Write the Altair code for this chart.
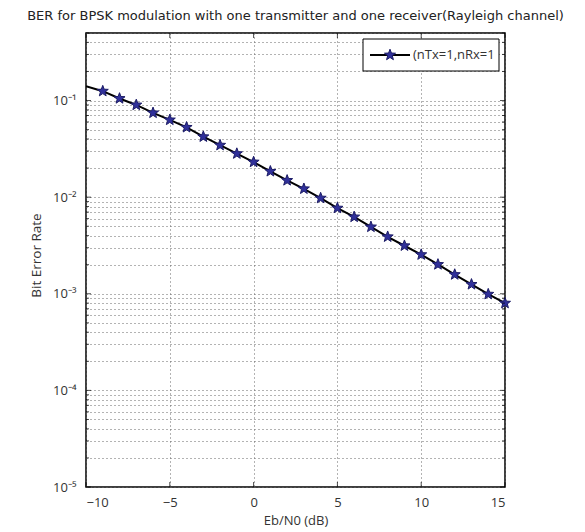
import math
import altair as alt
import pandas as pd

# ---- data ----
ebno_db = [-10, -9, -8, -7, -6, -5, -4, -3, -2, -1, 0, 1, 2, 3, 4, 5,
           6, 7, 8, 9, 10, 11, 12, 13, 14, 15]
ber = [0.141, 0.125, 0.105, 0.090, 0.0745, 0.063, 0.0528, 0.0422, 0.0345,
       0.0282, 0.0231, 0.0185, 0.0149, 0.0122, 0.00977, 0.0077, 0.00624,
       0.00492, 0.00389, 0.00314, 0.00254, 0.00201, 0.00158, 0.00125,
       0.00099, 0.0008]
series_name = "(nTx=1,nRx=1"
x_ticks = [-10, -5, 0, 5, 10, 15]
y_decades = [1e-5, 1e-4, 1e-3, 1e-2, 1e-1]
y_minor = [m * d for d in y_decades for m in range(2, 10) if m * d <= 0.5]
y_all = sorted(y_decades + y_minor)

X_DOM = [-10, 15]
Y_DOM = [1e-5, 0.5]
FONT = "Open Sans"
TXT = "#333333"
STAR = "#30309a"

df = pd.DataFrame({"x": ebno_db, "y": ber})
df_pts = df[df["x"] > -10].reset_index(drop=True)

# five-pointed star as an SVG path in unit coordinates
_pts = []
for i in range(10):
    ang = math.radians(-90 + 36 * i)
    r = 1.0 if i % 2 == 0 else 0.42
    _pts.append((r * math.cos(ang), r * math.sin(ang)))
STAR_PATH = "M" + "L".join(f"{px:.4f},{py:.4f}" for px, py in _pts) + "Z"

xs = alt.Scale(domain=X_DOM, nice=False, zero=False)
ys = alt.Scale(type="log", domain=Y_DOM, nice=False)

sup = {"-1": "⁻¹", "-2": "⁻²", "-3": "⁻³", "-4": "⁻⁴", "-5": "⁻⁵"}
e = "round(log(datum.value)/LN10)"
inner = " : ".join(f"{e} == {k} ? '10{v}'" for k, v in sup.items()) + " : ''"
y_label_expr = f"abs(log(datum.value)/LN10 - {e}) > 1e-6 ? '' : ({inner})"

x_axis = alt.Axis(
    orient="bottom", values=x_ticks, title="Eb/N0 (dB)", grid=True,
    gridDash=[1, 3], gridColor="#666666", gridWidth=1, ticks=False,
    domain=False, labelFont=FONT, labelFontSize=13, labelColor=TXT,
    labelPadding=9, titleFont=FONT, titleFontSize=13,
    titleFontWeight="normal", titleColor=TXT, titlePadding=5)
y_axis = alt.Axis(
    orient="left", values=y_all, labelExpr=y_label_expr,
    title="Bit Error Rate", grid=True, gridDash=[1, 3], gridColor="#666666",
    gridWidth=1, ticks=False, domain=False, labelFont=FONT, labelFontSize=13,
    labelColor=TXT, labelPadding=10, labelBaseline="middle",
    titleFont=FONT, titleFontSize=13.5, titleFontWeight="normal",
    titleColor=TXT, titleX=-43, titleY=222)

line = alt.Chart(df).mark_line(strokeWidth=2, color="black", clip=True).encode(
    x=alt.X("x:Q", scale=xs, axis=x_axis),
    y=alt.Y("y:Q", scale=ys, axis=y_axis),
)

points = alt.Chart(df_pts).mark_point(
    shape=STAR_PATH, filled=True, size=135, fill=STAR, stroke="#1c1c66",
    strokeWidth=1, opacity=1).encode(
    x=alt.X("x:Q", scale=xs), y=alt.Y("y:Q", scale=ys))

# inward tick marks like the reference frame
ymaj = pd.DataFrame({"y": y_decades})
ymin = pd.DataFrame({"y": y_minor})
xt = pd.DataFrame({"x": x_ticks})


def ytick(data, xval, ln, sign):
    return alt.Chart(data).mark_tick(
        orient="horizontal", color="black", thickness=1, size=ln,
        xOffset=sign * ln / 2).encode(
        x=alt.datum(xval), y=alt.Y("y:Q"))


def xtick(yval, sign):
    return alt.Chart(xt).mark_tick(
        orient="vertical", color="black", thickness=1, size=5,
        yOffset=sign * 2.5).encode(
        x=alt.X("x:Q"), y=alt.datum(yval))


# legend box drawn inside the plot, top right
leg = pd.DataFrame({"s": [series_name]})
leg_box = alt.Chart(leg).mark_rect(fill="white", stroke="black",
                                   strokeWidth=1).encode(
    x=alt.value(277), x2=alt.value(413), y=alt.value(6), y2=alt.value(38))
leg_line = alt.Chart(leg).mark_rule(color="black", strokeWidth=2).encode(
    x=alt.value(284), x2=alt.value(324), y=alt.value(22))
leg_star = alt.Chart(leg).mark_point(
    shape=STAR_PATH, filled=True, size=135, fill=STAR, stroke="#1c1c66",
    strokeWidth=1, opacity=1).encode(x=alt.value(304), y=alt.value(22))
leg_text = alt.Chart(leg).mark_text(
    align="left", baseline="middle", font=FONT, fontSize=13,
    color=TXT).encode(x=alt.value(327), y=alt.value(22), text="s:N")

chart = alt.layer(
    line, points,
    ytick(ymaj, X_DOM[0], 5, 1), ytick(ymaj, X_DOM[1], 5, -1),
    ytick(ymin, X_DOM[0], 3, 1), ytick(ymin, X_DOM[1], 3, -1),
    xtick(Y_DOM[0], -1), xtick(Y_DOM[1], 1),
    leg_box, leg_line, leg_star, leg_text,
).properties(
    width=419, height=454,
    title=alt.TitleParams(
        "BER for BPSK modulation with one transmitter and one receiver(Rayleigh channel)",
        font="DejaVu Sans", fontSize=13, fontWeight="normal", color="#222222",
        anchor="middle", offset=10),
    autosize=alt.AutoSizeParams(type="none"),
    padding={"left": 78, "top": 25, "right": 72, "bottom": 44},
).configure_view(stroke="#000000", strokeWidth=1.5)

chart.save("out.html", embed_options={"renderer": "svg", "actions": False})
